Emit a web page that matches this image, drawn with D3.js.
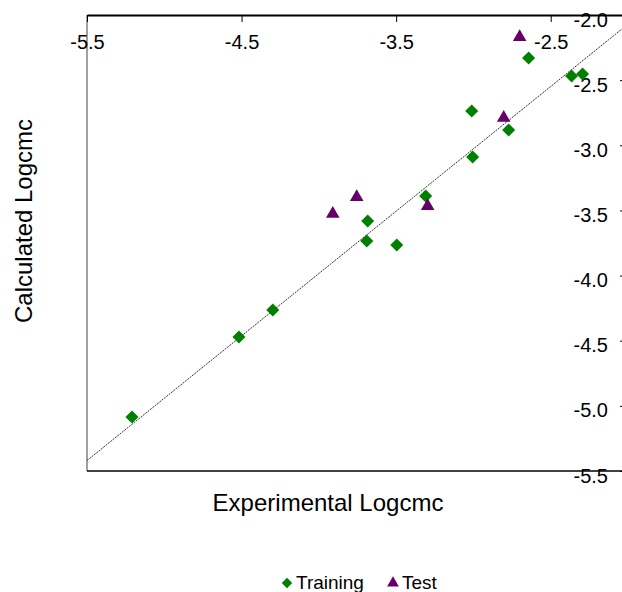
<!DOCTYPE html>
<html>
<head>
<meta charset="utf-8">
<script src="https://d3js.org/d3.v7.min.js"></script>
<style>
body { margin: 0; background: #fff; }
text { font-family: Arial, "Liberation Sans", sans-serif; fill: #000; }
</style>
</head>
<body>
<div id="chart"></div>
<script>
// data
var trainX = [-5.209, -4.517, -4.298, -3.684, -3.690, -3.496, -3.309, -3.011, -3.005, -2.772, -2.643, -2.365, -2.294];
var trainY = [-5.085, -4.471, -4.264, -3.581, -3.734, -3.765, -3.389, -2.737, -3.090, -2.883, -2.330, -2.468, -2.453];
var testX = [-3.910, -3.755, -3.296, -2.804, -2.701];
var testY = [-3.527, -3.397, -3.466, -2.790, -2.169];
var fitX = [-5.5, -2.0];
var fitY = [-5.42, -2.07];
var xTicks = [-5.5, -4.5, -3.5, -2.5];
var yTicks = [-2.0, -2.5, -3.0, -3.5, -4.0, -4.5, -5.0, -5.5];

var width = 622, height = 592;
var svg = d3.select("#chart").append("svg").attr("width", width).attr("height", height);

var x = d3.scaleLinear().domain([-5.5, -2.0]).range([87, 628]);
var y = d3.scaleLinear().domain([-5.5, -2.0]).range([471, 15]);

svg.append("clipPath").attr("id", "plot")
  .append("rect").attr("x", x(-5.5)).attr("y", y(-2.0))
  .attr("width", x(-2.0) - x(-5.5)).attr("height", y(-5.5) - y(-2.0));

// frame: left gray, bottom black
svg.append("line").attr("x1", x(-5.5)).attr("x2", x(-5.5)).attr("y1", y(-2.0)).attr("y2", y(-5.5))
  .attr("stroke", "#808080").attr("stroke-width", 1.5);
svg.append("line").attr("x1", x(-5.5)).attr("x2", x(-2.0)).attr("y1", y(-5.5)).attr("y2", y(-5.5))
  .attr("stroke", "#000").attr("stroke-width", 1.5);

// x axis along the top
var xAxis = d3.axisBottom(x).tickValues(xTicks)
  .tickSize(7).tickSizeOuter(0).tickPadding(13);
var gx = svg.append("g").attr("transform", "translate(0," + y(-2.0) + ")").call(xAxis);
gx.select(".domain").attr("stroke-width", 2);
gx.selectAll("text").attr("font-size", 20).text(function(d) { return d.toFixed(1); });

// y axis at x = -2.0
var yAxis = d3.axisLeft(y).tickValues(yTicks)
  .tickSize(8).tickSizeOuter(0).tickPadding(12);
var gy = svg.append("g").attr("transform", "translate(" + x(-2.0) + ",0)").call(yAxis);
gy.selectAll("text").attr("font-size", 20).attr("dy", "0.55em").text(function(d) { return d.toFixed(1); });

// fit line
svg.append("line").attr("clip-path", "url(#plot)")
  .attr("x1", x(fitX[0])).attr("y1", y(fitY[0]))
  .attr("x2", x(fitX[1])).attr("y2", y(fitY[1]))
  .attr("stroke", "#333").attr("stroke-width", 1).attr("stroke-dasharray", "2,1");

var diamond = d3.symbol().type(d3.symbolSquare).size(85);
var triangle = d3.symbol().type(d3.symbolTriangle).size(80);

svg.append("g").selectAll("path").data(trainX).enter().append("path")
  .attr("d", diamond)
  .attr("transform", function(d, i) { return "translate(" + x(d) + "," + y(trainY[i]) + ") rotate(45)"; })
  .attr("fill", "#008000");

svg.append("g").selectAll("path").data(testX).enter().append("path")
  .attr("d", triangle)
  .attr("transform", function(d, i) { return "translate(" + x(d) + "," + y(testY[i]) + ")"; })
  .attr("fill", "#660066");

// axis titles
svg.append("text").attr("x", 328).attr("y", 511).attr("text-anchor", "middle")
  .attr("font-size", 24).text("Experimental Logcmc");
svg.append("text").attr("transform", "translate(32,221) rotate(-90)").attr("text-anchor", "middle")
  .attr("font-size", 24).text("Calculated Logcmc");

// legend
var leg = svg.append("g");
leg.append("path").attr("d", d3.symbol().type(d3.symbolSquare).size(55))
  .attr("transform", "translate(287,583) rotate(45)").attr("fill", "#008000");
leg.append("text").attr("x", 296).attr("y", 589).attr("font-size", 19).text("Training");
leg.append("path").attr("d", d3.symbol().type(d3.symbolTriangle).size(60))
  .attr("transform", "translate(393,583)").attr("fill", "#660066");
leg.append("text").attr("x", 402).attr("y", 589).attr("font-size", 19).text("Test");
</script>
</body>
</html>
